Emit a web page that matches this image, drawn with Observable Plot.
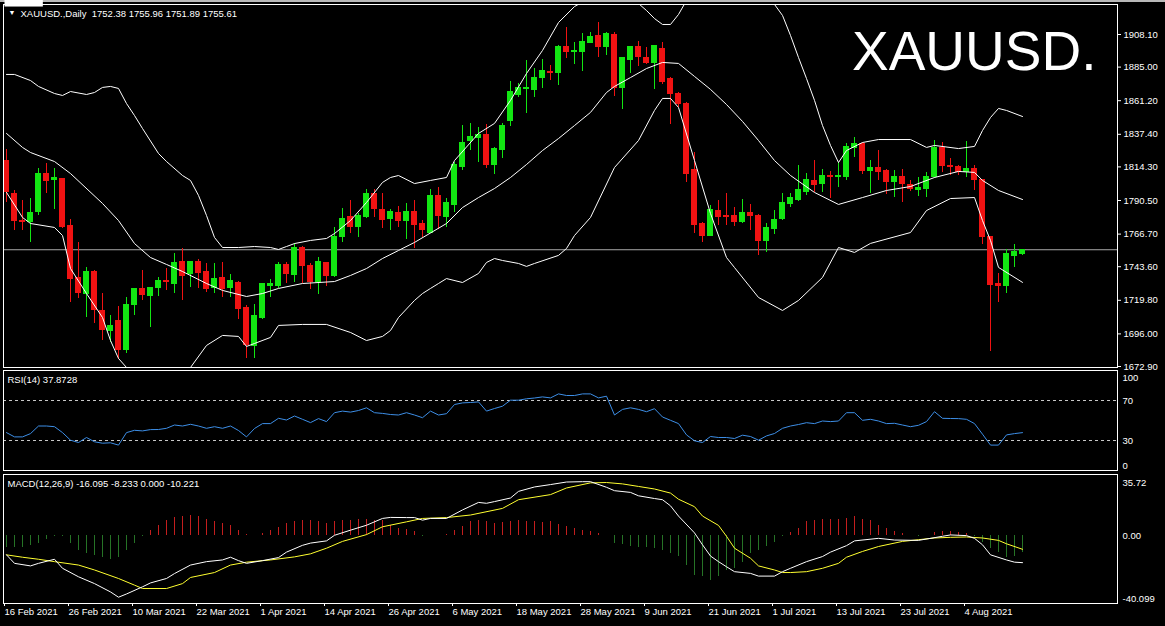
<!DOCTYPE html>
<html><head><meta charset="utf-8">
<script src="https://cdn.jsdelivr.net/npm/d3@7"></script>
<script src="https://cdn.jsdelivr.net/npm/@observablehq/plot@0.6"></script>
<style>
html,body{margin:0;padding:0;background:#000;}
#chart{position:relative;width:1165px;height:626px;background:#000;overflow:hidden;box-shadow:inset 0 2px 0 #b8b8b8;}
#chart > svg{position:absolute;left:0;}
</style></head><body><div id="chart"></div>
<script>
// ---------- DATA ----------
const symbol = "XAUUSD.";
const timeframe = "Daily";
const open = [
1818.8,1795.0,1776.0,1775.0,1782.0,1809.6,1805.0,1805.4,1772.1,1735.3,
1724.6,1739.5,1711.9,1697.7,1704.8,1684.3,1716.8,1727.5,1722.5,1728.2,
1733.4,1731.7,1746.6,1738.2,1746.6,1740.2,1728.2,1735.9,1728.2,1732.4,
1714.0,1687.1,1707.6,1729.6,1729.6,1744.5,1737.4,1757.2,1743.8,1733.1,
1745.9,1736.7,1764.3,1778.5,1771.4,1778.5,1794.8,1784.1,1777.7,1781.3,
1776.3,1782.0,1773.5,1767.8,1793.4,1778.5,1787.0,1813.9,1832.3,1835.1,
1836.6,1815.3,1826.6,1846.5,1864.9,1869.2,1869.0,1877.6,1881.5,1880.5,
1898.9,1895.4,1895.4,1902.4,1906.7,1898.9,1908.1,1870.5,1889.7,1898.9,
1891.8,1887.6,1897.5,1876.9,1866.3,1859.2,1811.8,1773.5,1765.7,1783.4,
1779.2,1779.2,1775.6,1781.3,1779.2,1761.5,1770.0,1777.7,1787.7,1791.2,
1796.2,1804.0,1802.5,1808.2,1806.8,1807.5,1828.0,1830.2,1811.1,1813.2,
1811.1,1803.3,1807.5,1801.8,1797.6,1798.3,1806.8,1828.0,1814.6,1813.9,
1811.0,1812.5,1804.7,1764.3,1731.0,1729.6,1751.4,1752.38];
const high = [
1826.6,1797.6,1790.5,1791.9,1813.2,1816.7,1813.2,1806.1,1777.0,1760.8,
1743.0,1740.9,1724.6,1709.0,1715.4,1721.8,1728.2,1740.9,1728.9,1736.0,
1742.3,1753.0,1756.5,1747.3,1748.7,1745.9,1745.9,1746.6,1738.1,1733.1,
1716.1,1716.8,1731.7,1734.5,1746.6,1746.6,1760.0,1757.9,1745.9,1750.1,
1746.6,1771.4,1784.8,1790.5,1781.3,1798.3,1798.3,1795.5,1784.1,1786.3,
1788.4,1790.5,1776.3,1798.3,1799.7,1791.9,1817.4,1843.6,1845.0,1842.2,
1844.3,1828.1,1845.0,1874.8,1873.4,1889.7,1884.0,1890.4,1886.2,1900.3,
1913.0,1902.4,1908.8,1909.5,1916.6,1909.5,1909.5,1891.8,1899.6,1903.1,
1898.9,1899.6,1902.4,1877.6,1867.0,1859.9,1824.5,1774.9,1786.9,1790.5,
1795.5,1785.5,1791.2,1787.6,1780.6,1774.2,1783.4,1795.5,1795.5,1815.3,
1809.6,1818.8,1812.5,1811.1,1817.4,1830.9,1835.1,1831.6,1818.8,1825.9,
1812.5,1811.8,1812.5,1804.7,1806.8,1810.4,1833.0,1831.6,1820.2,1815.3,
1832.3,1815.3,1805.4,1765.0,1738.8,1755.7,1759.3,1755.96];
const low = [
1789.0,1769.3,1769.3,1760.8,1779.9,1795.5,1784.1,1770.7,1718.2,1721.1,
1707.6,1703.3,1691.4,1689.9,1677.9,1682.2,1709.0,1719.7,1700.5,1722.5,
1726.8,1724.6,1719.7,1728.9,1728.2,1725.4,1724.6,1721.8,1721.8,1706.2,
1678.6,1678.6,1706.2,1721.8,1728.2,1731.7,1732.4,1731.7,1727.5,1724.0,
1729.6,1736.0,1760.8,1767.2,1764.3,1777.8,1778.5,1770.7,1769.3,1771.4,
1762.9,1756.5,1764.3,1767.2,1769.9,1771.4,1782.0,1811.8,1825.9,1817.4,
1813.2,1808.9,1820.3,1843.0,1863.5,1852.1,1863.5,1869.9,1875.5,1872.0,
1891.1,1886.9,1881.9,1901.7,1891.8,1893.2,1864.2,1855.0,1880.5,1885.4,
1886.9,1869.2,1872.7,1844.3,1856.4,1803.3,1767.2,1760.8,1765.0,1772.8,
1772.8,1772.1,1774.2,1769.3,1751.6,1753.7,1766.5,1776.3,1785.5,1789.8,
1794.1,1796.2,1796.2,1791.9,1799.7,1804.7,1820.9,1809.0,1795.5,1804.7,
1794.8,1792.6,1789.1,1796.9,1793.4,1792.6,1806.1,1810.4,1808.2,1808.2,
1806.8,1797.6,1759.3,1683.6,1718.2,1724.6,1743.0,1751.89];
const close = [
1796.2,1776.3,1775.0,1781.7,1809.6,1804.6,1806.2,1771.4,1735.2,1725.3,
1740.2,1712.6,1699.1,1701.9,1684.3,1716.8,1727.5,1723.2,1728.2,1733.2,
1732.6,1745.9,1736.7,1746.6,1738.8,1727.5,1735.2,1727.5,1733.8,1713.3,
1687.8,1709.0,1731.0,1731.1,1744.5,1738.1,1757.2,1743.8,1733.1,1746.6,
1736.7,1764.3,1777.7,1771.4,1779.2,1794.8,1784.8,1777.0,1782.0,1776.3,
1782.0,1772.8,1769.3,1793.4,1779.2,1788.4,1815.3,1830.9,1835.8,1837.2,
1816.0,1827.3,1843.0,1867.7,1870.5,1870.0,1877.6,1881.9,1880.5,1898.9,
1895.4,1896.1,1903.1,1906.0,1898.9,1908.8,1870.5,1891.1,1898.9,1892.5,
1887.6,1899.6,1874.8,1865.6,1859.2,1809.6,1772.8,1765.7,1784.1,1778.5,
1778.5,1775.0,1781.3,1779.2,1761.5,1770.7,1777.0,1788.4,1792.6,1797.6,
1804.7,1801.8,1808.2,1806.8,1808.2,1828.7,1830.2,1811.1,1813.2,1810.4,
1803.3,1806.8,1802.5,1798.3,1799.7,1806.8,1828.0,1814.6,1813.9,1810.4,
1812.5,1804.7,1764.3,1730.3,1729.6,1752.8,1754.2,1755.61];

// Bollinger bands (20,2): [bar, price]
const bbUpper = [[0,1879.8],[1,1879.8],[3,1875.5],[4,1871.3],[6,1866.3],[7,1864.9],[8,1867.7],[10,1865.6],[11,1867],[12,1870.6],[13,1871.3],[14,1869.9],[15,1859.2],[16,1850.7],[17,1841.5],[19,1823.8],[20,1818.1],[22,1808.2],[23,1804.7],[24,1794.1],[25,1779.9],[26,1764.3],[27,1757.2],[29,1757.2],[31,1757.9],[33,1757.2],[34,1755.8],[35,1757.9],[36,1760],[38,1762.2],[40,1763.6],[41,1767.1],[43,1776.3],[45,1789.1],[47,1803.3],[48,1806.8],[49,1808.2],[51,1802.5],[53,1804.7],[55,1806.8],[56,1818.8],[59,1838],[61,1845.1],[63,1861.4],[65,1880.5],[67,1896.8],[69,1916.6],[71,1927.9],[73,1934.3],[75,1930.1],[76,1929.4],[77,1930.8],[78,1935],[80,1925.1],[81,1919.4],[82,1915.2],[83,1915.2],[84,1922.3],[85,1932.2],[86,1937],[88,1957],[90,1966],[92,1958],[94,1944],[95,1937.9],[96,1929.4],[97,1921.6],[98,1907.4],[99,1891.8],[100,1876.9],[101,1861.4],[102,1843.6],[103,1829.5],[104,1817.4],[105,1825.9],[107,1831.6],[109,1833.7],[113,1833.7],[115,1828.1],[116,1829.5],[119,1827.3],[121,1828.8],[122,1840.1],[123,1849.3],[124,1855.7],[125,1854.3],[127,1850]];
const bbMiddle = [[0,1838],[2,1828.1],[3,1824.5],[6,1818.1],[8,1809.6],[12,1788.4],[14,1776.3],[16,1760],[18,1750.1],[20,1745.2],[22,1740.2],[25,1731.7],[27,1726.8],[30,1722.5],[32,1724.6],[34,1728.2],[37,1731.7],[41,1733.1],[43,1737.4],[45,1742.3],[47,1749.4],[49,1755.1],[51,1760.8],[55,1774.2],[57,1785.5],[59,1792.6],[61,1799],[63,1806.8],[65,1816],[67,1825.9],[69,1834.4],[71,1843.6],[73,1852.9],[75,1867],[76,1871.3],[78,1877.6],[80,1884],[82,1888.3],[84,1887.6],[86,1878.4],[88,1869.2],[90,1858.5],[92,1846.5],[94,1833],[96,1818.8],[98,1808.2],[101,1796.2],[104,1787.7],[107,1792.6],[110,1797.6],[113,1800.4],[116,1806.8],[119,1811.1],[121,1810.4],[122,1804.7],[124,1797.6],[127,1791.2]];
const bbLower = [[0,1796.2],[2,1778.5],[3,1774.2],[6,1771.4],[7,1765.7],[8,1742.3],[10,1724.6],[12,1707.6],[13,1691.3],[14,1678.6],[15,1672.2],[17,1668],[19,1668],[21,1670],[23,1672.2],[25,1687.8],[27,1694.9],[29,1694.2],[30,1687.1],[31,1689.2],[33,1693.5],[34,1702],[37,1702.7],[40,1702.7],[43,1697],[45,1691.3],[47,1694.2],[48,1698.4],[49,1707.6],[51,1719.7],[52,1724.6],[53,1728.2],[54,1731.7],[55,1735.2],[57,1732.4],[59,1738.8],[60,1746.6],[61,1749.4],[62,1748],[64,1745.9],[65,1743.8],[66,1745.9],[69,1751.6],[70,1756.5],[71,1765.7],[73,1778.5],[76,1813.9],[79,1833],[81,1854.3],[82,1862.8],[83,1862.8],[84,1856.4],[86,1818.8],[88,1781.3],[90,1750.1],[91,1743],[94,1721.8],[97,1712.6],[99,1719.7],[102,1736],[104,1757.2],[106,1753.7],[108,1760.1],[113,1767.8],[115,1783.4],[118,1791.9],[121,1792.6],[122,1776.3],[123,1762.2],[124,1743.1],[127,1732.5]];

// RSI(14): [bar, value]
const rsiCurrent = 37.8728;
const rsi = [[0,37.9],[1,33.6],[2,33.6],[3,36.9],[4,44.5],[5,44.5],[6,43.8],[7,37.9],[8,30.3],[9,28],[10,33],[11,28.7],[12,27.3],[13,27.7],[14,25.4],[15,37.9],[16,40.2],[17,39.6],[18,40.9],[19,41],[20,42.2],[21,45.5],[22,44.5],[23,46.2],[24,44.5],[25,42.2],[26,43.8],[27,42.2],[28,44.5],[29,40],[30,33.6],[31,42],[32,46.9],[33,46.9],[34,52.2],[35,50.5],[36,54.5],[37,51.2],[38,47.9],[39,51.9],[40,48.9],[41,57.8],[42,59.4],[43,58.4],[44,60],[45,62.7],[46,57.8],[47,57.1],[48,56],[49,55.5],[50,57.8],[51,55.5],[52,52.8],[53,59.4],[54,55.5],[55,56.8],[56,66],[57,67.6],[58,68],[59,68.6],[60,59.4],[61,62],[62,64.3],[63,70.3],[64,70.3],[65,71.7],[66,72.5],[67,73.6],[68,72.6],[69,76.6],[70,75],[71,75],[72,76.6],[73,76.6],[74,72.6],[75,74.3],[76,55.5],[77,61.1],[78,62.7],[79,61.1],[80,58.8],[81,61.8],[82,53.5],[83,50.2],[84,46.9],[85,35.6],[86,29.7],[87,28],[88,34],[89,33],[90,33],[91,32],[92,35.3],[93,34],[94,30.3],[95,34.6],[96,37],[97,42.2],[98,44.5],[99,46],[100,47.8],[101,46.9],[102,49.5],[103,48.9],[104,49.5],[105,57.8],[106,57.8],[107,50.2],[108,51.2],[109,49.5],[110,46.9],[111,47.2],[112,45.5],[113,43.8],[114,45.2],[115,48.9],[116,58.8],[117,52.2],[118,52],[119,51.9],[120,51.2],[121,46.9],[122,36.3],[123,25.4],[124,25.4],[125,35.6],[126,36.9],[127,37.8728]];
const rsiLevels = [70, 30];
const rsiBounds = [100, 0];

// MACD(12,26,9)
const macdHeader = [-16.095, -8.233, 0.000, -10.221];
const macdMain = [[0,-11.5],[1,-16.5],[3,-18],[4,-16.5],[6,-14.1],[7,-19.4],[9,-24.4],[11,-28.4],[13,-33.3],[14,-36.4],[15,-34.5],[17,-30.3],[18,-28],[20,-25.4],[21,-22.5],[23,-17.5],[25,-15.5],[27,-14.5],[28,-12.9],[29,-14.9],[30,-16.5],[32,-14.9],[34,-13.1],[35,-9.9],[37,-5.9],[38,-4.6],[40,-3.3],[41,0],[43,3],[45,5.9],[47,9.9],[48,10.5],[50,10.4],[51,10.4],[52,8.9],[53,9.9],[55,9.9],[57,14.9],[59,19.3],[60,18.8],[61,19.8],[63,21.9],[64,25.8],[66,28.4],[68,29.8],[70,31.3],[72,31.5],[73,31.5],[75,28.2],[76,26.2],[78,25.2],[79,23.2],[81,21.6],[82,20.9],[83,17.3],[84,11.3],[86,1.4],[87,-5.6],[88,-12.2],[89,-15.5],[90,-18.5],[91,-21.4],[93,-22.4],[94,-24],[96,-24],[97,-21.4],[98,-19.4],[100,-15.5],[102,-12.5],[103,-9.9],[105,-6.1],[106,-3.3],[109,-1.8],[111,-2.8],[114,-3],[117,-0.6],[118,0.2],[120,-0.2],[121,-1.8],[122,-5.6],[123,-11.5],[125,-14.5],[126,-15.8],[127,-16.095]];
const macdSignal = [[0,-11.5],[2,-12.9],[4,-14.1],[6,-15.5],[9,-17.5],[11,-20.4],[14,-25.4],[16,-29.3],[17,-31.3],[20,-31.3],[22,-28.4],[23,-24.8],[26,-21.9],[28,-17.5],[30,-15.8],[33,-14.5],[36,-12.7],[38,-10.9],[40,-7.6],[42,-3.6],[45,0.4],[47,5],[50,7.9],[52,9.9],[55,10.4],[58,11.9],[62,15.8],[64,20.9],[68,23.9],[70,27.8],[73,30.8],[75,31],[77,30.2],[79,28.7],[81,27.2],[83,24.8],[84,21.2],[86,16.8],[87,11.3],[89,5.8],[90,-0.6],[91,-7.6],[93,-13.5],[94,-18],[96,-20.4],[97,-21.9],[98,-21.9],[100,-21.4],[102,-19.4],[104,-16.5],[105,-12.9],[107,-9.5],[109,-6.6],[112,-3.6],[114,-2.6],[116,-1.6],[118,-1.2],[120,-1],[122,-1.6],[124,-3],[125,-5],[127,-8.233]];
const macdHist = [
-6.9,-6.9,-7.4,-5.9,-4.6,-2.6,-1,-1,-5,-9,
-10.5,-11.9,-13.3,-14.5,-13.3,-9,-4.6,-0.6,3,5.9,
8.9,10.5,10.9,11.9,11.3,9.4,7.9,6.9,5.6,3,
0.6,-0.3,1,3,4.6,6.9,7.9,8.9,8.6,7.9,
6.9,7.9,8.6,8.9,9.4,9.4,8.9,8.6,5.9,4,
3.3,2,-0.6,-0.3,-0.2,0.6,3,5.4,7.9,8.9,
7.9,6.9,7.4,7.9,8.6,7.9,7.9,7.4,7.9,6.6,
5.4,4,3,2.3,1,-0.3,-4.6,-5.4,-6.6,-7.4,
-6.9,-7.9,-8.9,-10.5,-12.5,-17.8,-23.4,-24.4,-26.8,-24.4,
-20.9,-19.8,-15.8,-10.9,-8.9,-6.6,-4,-1,1.4,4,
7.9,8.6,9.4,9.4,9.4,9.9,10.9,9.4,8.6,5.9,
4,2.3,1,0,-0.6,0,1.4,2,2,1.4,
1,-1,-4,-7.9,-9.9,-13.3,-12.5,-10.221];
const macdTicks = [35.72, 0, -40.099];
const macdTickLabels = ["35.72", "0.00", "-40.099"];

// Axes
const priceTicks = [1908.10, 1885.00, 1861.20, 1837.40, 1814.30, 1790.50, 1766.70, 1743.60, 1719.80, 1696.00, 1672.90];
const dateIdx = [0, 8, 16, 24, 32, 40, 48, 56, 64, 72, 80, 88, 96, 104, 112, 120];
const dateLabels = ["16 Feb 2021","26 Feb 2021","10 Mar 2021","22 Mar 2021","1 Apr 2021","14 Apr 2021","26 Apr 2021","6 May 2021","18 May 2021","28 May 2021","9 Jun 2021","21 Jun 2021","1 Jul 2021","13 Jul 2021","23 Jul 2021","4 Aug 2021"];

// ---------- DRAWING ----------
const W = 1165;
const FONT = "'Liberation Sans', Arial, sans-serif";
const UP = "#12e612", DOWN = "#f01212";
const HUP = "#c41e1e", HDOWN = "#267326";
const n = open.length;
const candles = open.map((o, i) => ({i, open: o, high: high[i], low: low[i], close: close[i]}));
const hist = macdHist.map((v, i) => ({i, v}));
const last = n - 1;
const xScale = {domain: [0, last], range: [6, 1022]};
const baseStyle = {background: "transparent", color: "white", fontFamily: FONT, fontSize: "9.5px", overflow: "visible"};
const P = d => d[0], V = d => d[1];
const candleColor = d => d.close >= d.open ? UP : DOWN;

const header = `${symbol},${timeframe}  ${open[last].toFixed(2)} ${high[last].toFixed(2)} ${low[last].toFixed(2)} ${close[last].toFixed(2)}`;

const main = Plot.plot({
  width: W, height: 372,
  marginLeft: 3, marginRight: 48, marginTop: 4, marginBottom: 5,
  x: {...xScale, axis: null},
  y: {domain: [1672.9, 1908.1], range: [366, 34]},
  color: {type: "identity"},
  style: baseStyle,
  marks: [
    Plot.ruleY([close[last]], {stroke: "#a8a8a8"}),
    Plot.ruleX(candles, {x: "i", y1: "low", y2: "high", stroke: candleColor, shapeRendering: "crispEdges"}),
    Plot.rect(candles, {x1: d => d.i - 0.32, x2: d => d.i + 0.32, y1: "open", y2: "close", fill: candleColor, insetTop: -0.5, insetBottom: -0.5, shapeRendering: "crispEdges"}),
    Plot.line(bbUpper, {x: P, y: V, stroke: "white", strokeWidth: 1, clip: true}),
    Plot.line(bbMiddle, {x: P, y: V, stroke: "white", strokeWidth: 1, clip: true}),
    Plot.line(bbLower, {x: P, y: V, stroke: "white", strokeWidth: 1, clip: true}),
    Plot.frame({stroke: "white"}),
    Plot.axisY(priceTicks, {anchor: "right", tickSize: 3, tickPadding: 3, label: null, tickFormat: d => d.toFixed(2), stroke: "white", fill: "white"}),
    Plot.text([close[last]], {y: d => d, frameAnchor: "right", dx: 6, textAnchor: "start", fill: "black", text: d => d.toFixed(2)}),
    Plot.text(["\u25BC"], {frameAnchor: "top-left", dx: 5, dy: 6, fontSize: 7, fill: "white", textAnchor: "start", lineAnchor: "top"}),
    Plot.text([header], {frameAnchor: "top-left", dx: 17, dy: 6, fill: "white", textAnchor: "start", lineAnchor: "top"}),
    Plot.text([symbol], {frameAnchor: "top-right", dx: -21, dy: 26, fontSize: 55, fill: "white", textAnchor: "end", lineAnchor: "top"})
  ]
});

const rsiPlot = Plot.plot({
  width: W, height: 104,
  marginLeft: 3, marginRight: 48, marginTop: 2, marginBottom: 2,
  x: {...xScale, axis: null},
  y: {domain: [0, 100], range: [102, 2]},
  style: baseStyle,
  marks: [
    Plot.ruleY(rsiLevels, {stroke: "#c8c8c8", strokeDasharray: "3,3"}),
    Plot.line(rsi, {x: P, y: V, stroke: "#3d8ee6", strokeWidth: 1}),
    Plot.frame({stroke: "white"}),
    Plot.axisY(rsiLevels, {anchor: "right", tickSize: 0, tickPadding: 5, label: null, fill: "white"}),
    Plot.text([rsiBounds[0]], {y: d => d, frameAnchor: "right", dx: 5, dy: 7, textAnchor: "start", fill: "white", text: d => String(d)}),
    Plot.text([rsiBounds[1]], {y: d => d, frameAnchor: "right", dx: 5, dy: -5, textAnchor: "start", fill: "white", text: d => String(d)}),
    Plot.text([`RSI(14) ${rsiCurrent.toFixed(4)}`], {frameAnchor: "top-left", dx: 4, dy: 6, fill: "white", textAnchor: "start", lineAnchor: "top"})
  ]
});

const macdPlot = Plot.plot({
  width: W, height: 154,
  marginLeft: 3, marginRight: 48, marginTop: 2, marginBottom: 23,
  x: {...xScale},
  y: {domain: [-40.099, 35.72], range: [131, 2], axis: null},
  color: {type: "identity"},
  style: baseStyle,
  marks: [
    Plot.ruleX(hist, {x: "i", y1: 0, y2: "v", stroke: d => d.v >= 0 ? HUP : HDOWN, shapeRendering: "crispEdges"}),
    Plot.line(macdSignal, {x: P, y: V, stroke: "#ffff30", strokeWidth: 1}),
    Plot.line(macdMain, {x: P, y: V, stroke: "white", strokeWidth: 1}),
    Plot.frame({stroke: "white"}),
    Plot.axisX(dateIdx, {anchor: "bottom", tickSize: 3, tickPadding: 2, label: null, textAnchor: "start", dx: -2, stroke: "white", fill: "white", tickFormat: d => dateLabels[dateIdx.indexOf(d)]}),
    Plot.text([macdTicks[0]], {y: d => d, frameAnchor: "right", dx: 5, dy: 8, textAnchor: "start", fill: "white", text: () => macdTickLabels[0]}),
    Plot.text([macdTicks[1]], {y: d => d, frameAnchor: "right", dx: 5, dy: 1, textAnchor: "start", fill: "white", text: () => macdTickLabels[1]}),
    Plot.text([macdTicks[2]], {y: d => d, frameAnchor: "right", dx: 5, dy: -5, textAnchor: "start", fill: "white", text: () => macdTickLabels[2]}),
    Plot.text([`MACD(12,26,9) ${macdHeader.map(v => v.toFixed(3)).join(" ")}`], {frameAnchor: "top-left", dx: 4, dy: 6, fill: "white", textAnchor: "start", lineAnchor: "top"})
  ]
});

const chart = document.getElementById("chart");
main.style.top = "0px";
rsiPlot.style.top = "368px";
macdPlot.style.top = "472px";
chart.append(main, rsiPlot, macdPlot);

// white box behind the current price label
for (const t of main.querySelectorAll("text")) {
  const g = t.closest("g");
  if (t.textContent === close[last].toFixed(2) && g && g.getAttribute("fill") === "black") {
    const b = t.getBBox();
    const r = document.createElementNS("http://www.w3.org/2000/svg", "rect");
    r.setAttribute("x", b.x - 2);
    r.setAttribute("y", b.y - 1);
    r.setAttribute("width", b.width + 4);
    r.setAttribute("height", b.height + 2);
    r.setAttribute("fill", "white");
    t.parentNode.insertBefore(r, t);
  }
}
</script>
</body></html>
